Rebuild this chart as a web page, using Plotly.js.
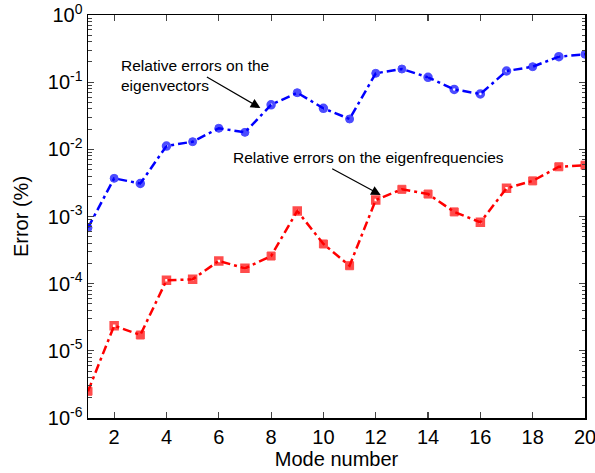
<!DOCTYPE html>
<html><head><meta charset="utf-8">
<script src="https://cdn.plot.ly/plotly-3.0.1.min.js"></script>
<style>html,body{margin:0;padding:0;background:#fff}#plot{width:595px;height:473px}</style>
</head><body><div id="plot"></div>
<script>
const modes = [1,2,3,4,5,6,7,8,9,10,11,12,13,14,15,16,17,18,19,20];
const eigvecErr = [6.8e-4,3.7e-3,3.1e-3,0.0112,0.013,0.0206,0.0179,0.046,0.0697,0.0408,0.0283,0.1355,0.157,0.118,0.078,0.0667,0.1466,0.170,0.24,0.26];
const eigfreqErr = [2.5e-6,2.37e-5,1.72e-5,1.12e-4,1.16e-4,2.18e-4,1.69e-4,2.58e-4,1.21e-3,3.9e-4,1.85e-4,1.76e-3,2.54e-3,2.16e-3,1.17e-3,8.2e-4,2.63e-3,3.39e-3,5.5e-3,5.8e-3];
const yTickVals = [1e-6,1e-5,1e-4,1e-3,1e-2,1e-1,1];
const yTickText = ['10<sup>-6</sup>','10<sup>-5</sup>','10<sup>-4</sup>','10<sup>-3</sup>','10<sup>-2</sup>','10<sup>-1</sup>','10<sup>0</sup>'];
const xTickVals = [2,4,6,8,10,12,14,16,18,20];
const labelVec = 'Relative errors on the<br>eigenvectors';
const labelFreq = 'Relative errors on the eigenfrequencies';

// marker rendering style (filled / hollow-centre look of the original)
const vecOpen  = [0,0,1,1,0,0,0,1,0,1,0,0,0,1,1,1,1,0,1,0];
const freqOpen = [0,1,0,1,1,1,1,0,1,0,0,1,0,0,0,1,1,0,0,0];
const symOf = (flags, base) => flags.map(o => o ? base + '-open' : base);
const sizeOf = flags => flags.map(o => o ? 6 : 8);
const lwOf = flags => flags.map(o => o ? 3.5 : 1);

// minor log ticks (2..9 per decade)
const minorVals = [];
for (let d = -6; d < 0; d++) for (let k = 2; k <= 9; k++) minorVals.push(k * Math.pow(10, d));

const font = 'Liberation Sans, Arial, sans-serif';
const dashPat = '9px,4px,3px,4px';
const traces = [
  {x: modes, y: eigvecErr, mode:'lines+markers', type:'scatter',
   line:{color:'#0000ff', width:2.5, dash:dashPat},
   marker:{color:'#0000ff', size:sizeOf(vecOpen), symbol:symOf(vecOpen,'circle'),
           line:{color:'#0000ff', width:lwOf(vecOpen)}}},
  {x: modes, y: eigfreqErr, mode:'lines+markers', type:'scatter',
   line:{color:'#ff0000', width:2.5, dash:dashPat},
   marker:{color:'#ff0000', size:sizeOf(freqOpen), symbol:symOf(freqOpen,'square'),
           line:{color:'#ff0000', width:lwOf(freqOpen)}}}
];
const layout = {
  width:595, height:473, showlegend:false,
  margin:{l:88, r:10, t:15, b:55},
  paper_bgcolor:'#fff', plot_bgcolor:'#fff',
  font:{family:font, size:16, color:'#000'},
  xaxis:{range:[1,20], tickvals:xTickVals, ticks:'inside', ticklen:6, tickwidth:1.2,
    showline:true, mirror:'allticks', linecolor:'#000', linewidth:1.5, showgrid:false, zeroline:false,
    ticklabeloverflow:'allow',
    title:{text:'Mode number', font:{size:20}, standoff:4},
    tickfont:{size:20}},
  yaxis:{type:'log', range:[-6,0], tickvals:yTickVals, ticktext:yTickText, ticks:'inside', ticklen:6, tickwidth:1.2,
    showline:true, mirror:'allticks', linecolor:'#000', linewidth:1.5, showgrid:false, zeroline:false,
    ticklabeloverflow:'allow',
    minor:{tickmode:'array', tickvals:minorVals, ticks:'inside', ticklen:3.5, tickwidth:1, showgrid:false},
    title:{text:'Error (%)', font:{size:20}, standoff:14},
    tickfont:{size:20}},
  annotations:[
    {x:7.59, y:-1.385, xref:'x', yref:'y', text:'', showarrow:true,
     arrowhead:2, arrowsize:1.6, arrowwidth:1.2, arrowcolor:'#000', ax:-55, ay:-32},
    {x:2.19, y:-0.9, xref:'x', yref:'y', text:labelVec,
     showarrow:false, xanchor:'left', yanchor:'middle', align:'left', font:{size:15.5}},
    {x:12.19, y:-2.68, xref:'x', yref:'y', text:'', showarrow:true,
     arrowhead:2, arrowsize:1.6, arrowwidth:1.2, arrowcolor:'#000', ax:-50, ay:-27},
    {x:6.48, y:-2.12, xref:'x', yref:'y', text:labelFreq,
     showarrow:false, xanchor:'left', yanchor:'middle', align:'left', font:{size:15.5}}
  ]
};
Plotly.newPlot('plot', traces, layout, {displayModeBar:false, staticPlot:true});
</script></body></html>
